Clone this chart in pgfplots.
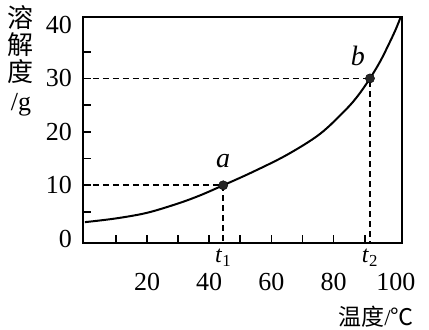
\documentclass[border=0pt]{standalone}
\usepackage{fontspec}
\setmainfont{Liberation Serif}
\newfontfamily\cjk{Noto Sans CJK SC}
\usepackage{pgfplots}
\pgfplotsset{compat=1.18}
\begin{document}
\begin{tikzpicture}
\begin{axis}[
  scale only axis, width=319pt, height=226pt,
  xmin=-0.6, xmax=102, ymin=-0.8, ymax=41.5,
  axis line style={line width=1.9pt},
  tick align=inside, tick pos=left,
  xtick={20,40,60,80,100}, minor xtick={10,20,...,90},
  ytick={0,10,20,30,40}, minor ytick={5,10,...,35},
  major x tick style={draw=none}, major y tick style={draw=none},
  minor tick length=8pt,
  every tick/.style={line width=1.7pt, black},
  /pgf/number format/assume math mode=true,
  tick label style={font=\fontsize{26}{30}\selectfont, inner sep=0pt},
  xticklabel style={anchor=north, yshift=-30pt},
  yticklabel style={anchor=east, xshift=-11pt},
  clip=false,
]
% dashed guide lines
\addplot[line width=1.7pt, dash pattern=on 6pt off 4pt] coordinates {(-0.6,10) (44.5,10) (44.5,-0.8)};
\addplot[line width=1.7pt, dash pattern=on 6pt off 4pt] coordinates {(-0.6,30) (91.7,30) (91.7,-0.8)};
% solubility curve
\addplot[line width=2pt, smooth, tension=0.55] coordinates {
  (0,3.1) (10,3.8) (20,4.85) (30,6.6) (37,8.1) (44.5,10) (54,12.5) (65,15.7)
  (75.6,19.6) (84,24.2) (88,26.9) (91.7,30) (95,33.2) (98,36.7) (100,39.2) (101.6,41.5)};
% points a and b
\addplot[only marks, mark=*, mark size=4.6pt, fill=black!85, draw=black] coordinates {(44.5,10) (91.7,30)};
\node[font=\fontsize{28}{30}\selectfont\itshape] at (axis cs:44.5,10) [yshift=24pt] {a};
\node[font=\fontsize{28}{30}\selectfont\itshape] at (axis cs:91.7,30) [xshift=-12pt, yshift=23pt] {b};
\node[font=\fontsize{24}{26}\selectfont, anchor=north, inner sep=0pt] at (axis cs:44.5,-0.8) [yshift=-6pt] {\textit{t}\textsubscript{1}};
\node[font=\fontsize{24}{26}\selectfont, anchor=north, inner sep=0pt] at (axis cs:91.7,-0.8) [yshift=-6pt] {\textit{t}\textsubscript{2}};
\coordinate (tl) at (rel axis cs:0,1);
\coordinate (br) at (rel axis cs:1,0);
\end{axis}
% y axis label (vertical)
\node[anchor=north, align=center, inner sep=0pt, font=\fontsize{26}{27}\selectfont] at ([xshift=-62pt, yshift=12pt]tl)
  {{\cjk 溶}\\[0pt]{\cjk 解}\\[0pt]{\cjk 度}\\[2pt]/g};
% x axis label
\node[anchor=center, inner sep=0pt, font=\fontsize{23}{25}\selectfont] at ([xshift=-26pt, yshift=-74pt]br)
  {{\cjk 温度}/{\cjk ℃}};
% bounding box matching the reference
\path ([xshift=-83pt, yshift=17pt]tl) rectangle ([xshift=27pt, yshift=-87pt]br);
\end{tikzpicture}
\end{document}
